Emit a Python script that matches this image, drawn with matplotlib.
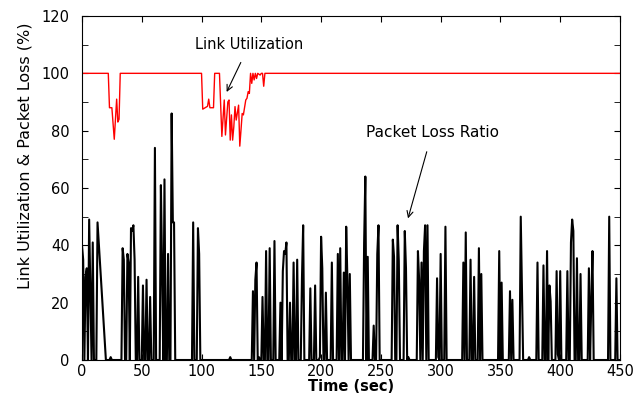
import matplotlib.pyplot as plt
import numpy as np

# packet loss ratio: spikes (second, %) on a zero baseline, sampled every second
loss_times = [0, 1, 3, 4, 6, 7, 9, 13, 24,
              34, 35, 38, 39, 41, 42, 43, 44, 47, 51, 54, 57, 61, 66, 67, 69, 72,
              75, 76, 77, 93, 97, 98, 124, 143, 145, 146, 148, 151, 154, 157, 161,
              166, 168, 169, 170, 171, 174, 177, 180, 184, 185, 191, 195, 199, 200,
              201, 204, 209, 214, 216, 219, 221, 222, 224, 236, 237, 239, 244, 247,
              248, 260, 261, 264, 265, 270, 271, 273, 281, 282, 284, 286, 287, 289,
              297, 298, 300, 304, 319, 321, 325, 328, 332, 334, 349, 351, 358, 360,
              367, 368, 374, 381, 386, 389, 391, 392, 397, 398, 400, 406, 409, 410,
              411, 414, 417, 424, 426, 427, 441, 447]
loss_values = [40, 35, 29, 32, 49, 24, 41, 48, 1,
               39, 35, 37, 34, 46, 45, 47, 35, 29, 26, 28, 22, 74, 61, 32, 63, 37,
               86, 48, 48, 48, 46, 37, 1, 24, 28, 34, 1, 22, 38, 39, 41.5,
               20, 31, 38, 37, 41, 20, 34, 35, 28.5, 47, 25, 26, 1, 43,
               32, 23.5, 34, 37, 39, 30.5, 46.5, 28, 30, 41, 64, 36, 12, 37,
               47, 42, 36, 47, 34.5, 45, 32, 1, 38, 28, 34, 38, 47, 47,
               28.5, 1, 37, 46.5, 34, 44.5, 35, 29, 39, 30, 38, 27, 24, 21,
               50, 26, 1, 34, 33, 38, 26, 20.5, 31, 2, 31, 31, 41, 49,
               45, 35.5, 30, 32, 21, 38, 50, 28.5]
# seconds with no sample (line is drawn straight across them)
missing_times = [14, 15, 16, 17, 18, 19]

# link utilization (second, %)
util_times = [0, 22, 23, 25, 27, 29, 30, 31, 32, 100, 101, 105, 106, 107, 110, 111,
              115, 117, 119, 120, 122, 123, 124, 125, 126, 127, 128, 129, 131, 132,
              133, 134, 135, 137, 138, 139, 140, 141, 142, 143, 144, 145, 146, 147,
              149, 150, 151, 152, 153, 450]
util_values = [100, 100, 88, 88, 77, 91, 83, 84, 100, 100, 87.5, 88.5, 91, 88, 88, 100,
               100, 78, 90.7, 78.5, 90, 90.7, 76.7, 85.5, 76.7, 81.4, 88.4, 83.7, 88.9, 74.6,
               80.2, 86, 85.5, 90.7, 91.3, 93.6, 93, 100, 96.5, 100, 97.7, 100, 98.2, 100,
               99.4, 100, 100, 95.5, 100, 100]

t = np.arange(0, 451)
loss = np.zeros(len(t))
loss[np.array(loss_times)] = loss_values
keep = ~np.isin(t, missing_times)

fig = plt.figure(figsize=(6.42, 3.96), dpi=100)
ax = fig.add_axes([0.1277, 0.0909, 0.838, 0.8687])

ax.plot(t[keep], loss[keep], color='black', lw=1.5)
ax.plot(util_times, util_values, color='red', lw=1.0)

ax.set_xlim(0, 450)
ax.set_ylim(0, 120)
ax.set_xticks(np.arange(0, 451, 50))
ax.set_yticks(np.arange(0, 121, 20))
ax.set_yticks(np.arange(10, 120, 20), minor=True)
ax.tick_params(which='both', direction='in', top=True, right=True, length=4,
               labelsize=10.5)
ax.tick_params(axis='x', pad=3)
ax.tick_params(axis='y', pad=9)

ax.set_xlabel('Time (sec)', fontsize=10.5, fontweight='bold', labelpad=0)
ax.set_ylabel('Link Utilization & Packet Loss (%)', fontsize=11.5)
ax.yaxis.set_label_coords(-0.092, 0.594)

ax.annotate('Link Utilization', xy=(121, 93.5), xytext=(140, 110),
            fontsize=10.5, ha='center', va='center',
            arrowprops=dict(arrowstyle='->', color='black', lw=0.8,
                            shrinkA=6, shrinkB=0))
ax.annotate('Packet Loss Ratio', xy=(272.7, 49.4), xytext=(293, 79.5),
            fontsize=11, ha='center', va='center',
            arrowprops=dict(arrowstyle='->', color='black', lw=0.8,
                            shrinkA=7, shrinkB=0))

plt.savefig('out.png', dpi=100)
